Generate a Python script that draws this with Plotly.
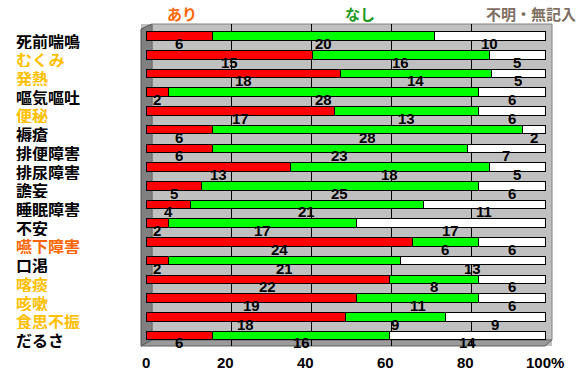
import plotly.graph_objects as go

# Symptom categories (top to bottom) and counts per response
categories = ["死前喘鳴", "むくみ", "発熱", "嘔気嘔吐", "便秘", "褥瘡", "排便障害", "排尿障害",
              "譫妄", "睡眠障害", "不安", "嚥下障害", "口渇", "喀痰", "咳嗽", "食思不振", "だるさ"]
ari = [6, 15, 18, 2, 17, 6, 6, 13, 5, 4, 2, 24, 2, 22, 19, 18, 6]
nashi = [20, 16, 14, 28, 13, 28, 23, 18, 25, 21, 17, 6, 21, 8, 11, 9, 16]
fumei = [10, 5, 5, 6, 6, 2, 7, 5, 6, 11, 17, 6, 13, 6, 6, 9, 14]
series_names = ["あり", "なし", "不明・無記入"]
label_colors = ["black", "#FFC000", "#FFC000", "black", "#FFC000", "black", "black", "black",
                "black", "black", "black", "#FF6600", "black", "#FFC000", "#FFC000", "#FFC000", "black"]
tick_vals = [0, 20, 40, 60, 80, 100]
tick_text = ["0", "20", "40", "60", "80", "100%"]

W, H = 582, 370
L, R, T, B = 141, 552, 24, 346  # plot area in pixels


def px(x):
    return (x - L) / (R - L)


def py(y):
    return (B - y) / (B - T)


series = [ari, nashi, fumei]
colors = ["#FF0000", "#00FF00", "#FFFFFF"]
totals = [a + b + c for a, b, c in zip(ari, nashi, fumei)]
pcts = [[v / t * 100 for v, t in zip(s, totals)] for s in series]

fig = go.Figure()
for name, p, col in zip(series_names, pcts, colors):
    fig.add_trace(go.Bar(
        y=categories, x=p, orientation="h", name=name,
        marker=dict(color=col, line=dict(color="black", width=1)),
        width=0.46, showlegend=False, hoverinfo="skip"))

# overlay axis that carries the back-wall gridlines
fig.add_trace(go.Scatter(x=[], y=[], xaxis="x2", showlegend=False))

annotations = []
# value labels under each segment
for i, cat in enumerate(categories):
    cum = 0
    for s, p in zip(series, pcts):
        annotations.append(dict(
            x=cum + p[i] / 2, y=cat, xref="x", yref="y", text=str(s[i]),
            showarrow=False, yshift=-7, height=16,
            font=dict(family="Liberation Sans", size=15, color="black", weight="bold")))
        cum += p[i]

# category labels on the left
for cat, col in zip(categories, label_colors):
    annotations.append(dict(
        x=px(14), y=cat, xref="paper", yref="y", text=cat, xanchor="left",
        showarrow=False, yshift=-4, height=17,
        font=dict(family="Noto Sans CJK JP", size=16, color=col, weight="bold")))

# percentage scale labels below the floor
for v, t in zip(tick_vals, tick_text):
    annotations.append(dict(
        x=v, y=py(362), xref="x", yref="paper", text=t, showarrow=False,
        xanchor="center", yanchor="middle",
        font=dict(family="Liberation Sans", size=15, color="black", weight="bold")))

# series headings above the plot
for name, xc, col in zip(series_names, [182, 360, 531], ["#FF6600", "#1E9A1E", "#7F6F63"]):
    annotations.append(dict(
        x=px(xc), y=py(13), xref="paper", yref="paper", text=name,
        showarrow=False, xanchor="center", yanchor="middle",
        font=dict(family="Noto Sans CJK JP", size=15, color=col, weight="bold")))

shapes = [
    # left wall
    dict(type="path", xref="paper", yref="paper",
         path=f"M0,0 L0,{py(29)} L{px(152)},1 L{px(152)},{py(340)} Z",
         fillcolor="#808080", line=dict(color="#505050", width=1), layer="below"),
    # floor
    dict(type="path", xref="paper", yref="paper",
         path=f"M0,0 L{px(152)},{py(340)} L1,{py(340)} L{px(545)},0 Z",
         fillcolor="#9A9A9A", line=dict(color="#606060", width=1), layer="below"),
    # back wall outline
    dict(type="rect", xref="paper", yref="paper", x0=px(152), x1=1, y0=py(340), y1=1,
         fillcolor="rgba(0,0,0,0)", line=dict(color="#808080", width=1), layer="below"),
]

x_lo = (L - 146) / 3.99
x_hi = 100 + (R - 545) / 3.99
shift = 6 / 3.99
row = 18.63
y_top = -(36 - T) / row
y_bot = 16 + (B - 335.5) / row

fig.update_layout(
    width=W, height=H,
    margin=dict(l=L, r=W - R, t=T, b=H - B),
    paper_bgcolor="white", plot_bgcolor="#C0C0C0",
    barmode="stack", bargap=0.5,
    xaxis=dict(range=[x_lo, x_hi], tickvals=tick_vals, showticklabels=False,
               showgrid=False, zeroline=False, ticks=""),
    xaxis2=dict(overlaying="x", range=[x_lo - shift, x_hi - shift], tickvals=[20, 40, 60, 80],
                showgrid=True, gridcolor="black", gridwidth=1, showticklabels=False,
                zeroline=False, ticks="", side="top"),
    yaxis=dict(range=[y_bot, y_top], showticklabels=False, showgrid=False,
               zeroline=False, ticks=""),
    annotations=annotations, shapes=shapes,
)

fig.write_html("out.html")
